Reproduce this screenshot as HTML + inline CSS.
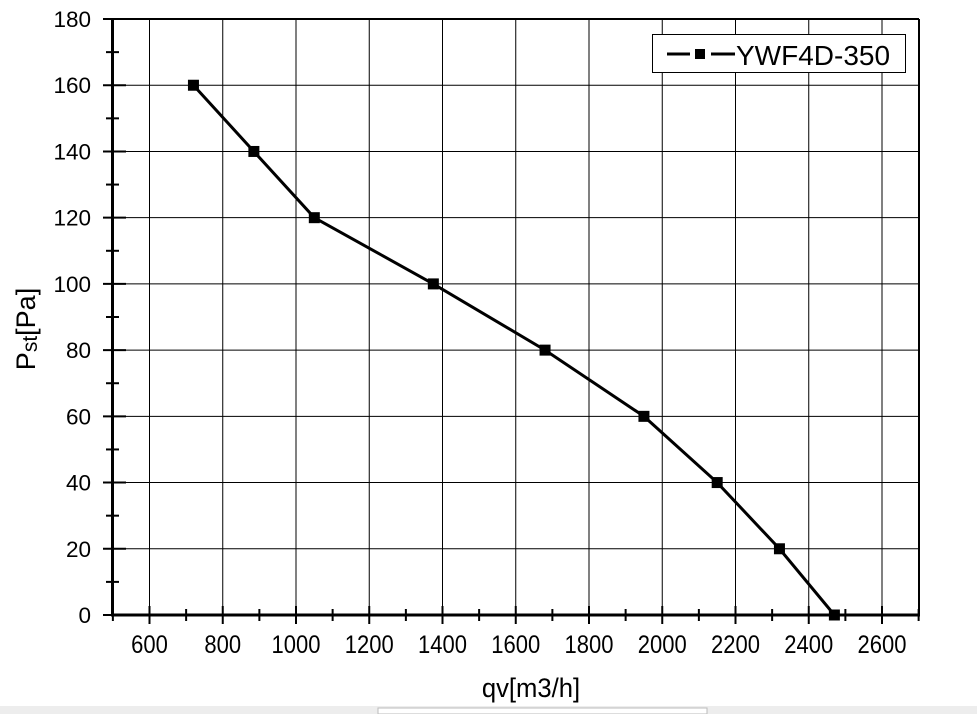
<!DOCTYPE html>
<html><head><meta charset="utf-8"><style>
html,body{margin:0;padding:0;background:#fff;}
svg{display:block;font-family:"Liberation Sans",Arial,sans-serif;}
</style></head><body>
<svg width="977" height="714" viewBox="0 0 977 714" xmlns="http://www.w3.org/2000/svg">
<rect width="977" height="714" fill="#fff"/>
<g id="grid" stroke="#000" stroke-width="1"></g>
<g id="ticks" stroke="#000" stroke-width="2"></g>
<g id="labels" fill="#000"></g>
<line x1="112.5" y1="19" x2="919" y2="19" stroke="#000" stroke-width="2"/>
<line x1="919" y1="19" x2="919" y2="615" stroke="#000" stroke-width="2"/>
<line x1="112.5" y1="18" x2="112.5" y2="616" stroke="#000" stroke-width="3"/>
<line x1="111" y1="615" x2="920" y2="615" stroke="#000" stroke-width="3"/>
<g id="series"></g>
<rect x="652.5" y="34.5" width="253" height="38" fill="#fff" stroke="#000" stroke-width="1"/>
<line x1="667" y1="54" x2="690" y2="54" stroke="#000" stroke-width="3"/>
<rect x="695" y="49" width="10" height="10" fill="#000"/>
<line x1="711" y1="54" x2="735" y2="54" stroke="#000" stroke-width="3"/>
<text x="736" y="65" style="font-size:28px" fill="#000">YWF4D-350</text>
<text transform="translate(531,697) scale(0.95,1)" style="font-size:27px" text-anchor="middle" fill="#000">qv[m3/h]</text>
<text transform="translate(35,329) rotate(-90)" style="font-size:27px" text-anchor="middle" fill="#000">P<tspan style="font-size:21px" dy="2">st</tspan><tspan dy="-2">[Pa]</tspan></text>
<rect x="0" y="706" width="977" height="8" fill="#ededed"/>
<rect x="378" y="708" width="329" height="6" fill="#fff" stroke="#bbb"/>
</svg>
<script>
var ns="http://www.w3.org/2000/svg";
function X(v){return 149.5+(v-600)/200*73.25;}
function Y(v){return 615-v/20*66.22;}
function el(p,t,a){var e=document.createElementNS(ns,t);for(var k in a)e.setAttribute(k,a[k]);document.getElementById(p).appendChild(e);return e;}
for(var v=600;v<=2600;v+=200){el("grid","line",{x1:X(v),y1:19,x2:X(v),y2:615});var t=el("labels","text",{transform:"translate("+X(v)+",653) scale(0.88,1)","text-anchor":"middle",style:"font-size:25px"});t.textContent=v;}
for(var v=20;v<=160;v+=20){el("grid","line",{x1:112,y1:Y(v),x2:919,y2:Y(v)});}
for(var v=0;v<=180;v+=20){var t=el("labels","text",{x:91,y:Y(v)+8,"text-anchor":"end",style:"font-size:22.5px"});t.textContent=v;}
for(var v=500;v<=2700;v+=100){var maj=(v%200==0);el("ticks","line",{x1:X(v),y1:maj?606:609,x2:X(v),y2:maj?624:621});}
for(var v=0;v<=180;v+=10){var maj=(v%20==0);el("ticks","line",{x1:maj?103:106,y1:Y(v),x2:maj?126:119,y2:Y(v)});}
var d=[[720,160],[885,140],[1050,120],[1375,100],[1680,80],[1950,60],[2150,40],[2320,20],[2470,0]];
el("series","polyline",{points:d.map(function(p){return X(p[0])+","+Y(p[1]);}).join(" "),fill:"none",stroke:"#000","stroke-width":3});
d.forEach(function(p){el("series","rect",{x:X(p[0])-5.5,y:Y(p[1])-5.5,width:11,height:11,fill:"#000"});});
</script>
</body></html>
